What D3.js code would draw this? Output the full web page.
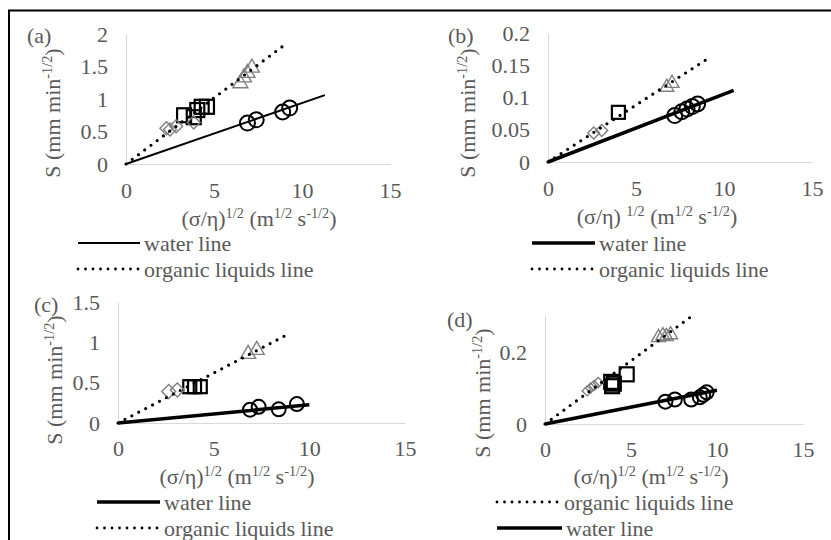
<!DOCTYPE html>
<html>
<head>
<meta charset="utf-8">
<script src="https://cdn.jsdelivr.net/npm/d3@7"></script>
<style>
  html, body { margin: 0; padding: 0; background: #fff; }
</style>
</head>
<body>
<div id="chart"></div>
<script>
// tick labels
const xTickValues = [0, 5, 10, 15];
const aYTicks = [0, 0.5, 1, 1.5, 2];
const bYTicks = [0, 0.05, 0.1, 0.15, 0.2];
const cYTicks = [0, 0.5, 1, 1.5];
const dYTicks = [0, 0.2];

// panel (a)
const aWater = [[6.9, 0.63], [7.4, 0.68], [8.9, 0.8], [9.3, 0.86]];
const aSquares = [[3.3, 0.75], [3.85, 0.72], [4.05, 0.83], [4.3, 0.88], [4.6, 0.88]];
const aDiamonds = [[2.3, 0.55], [2.5, 0.53], [2.85, 0.58], [3.85, 0.64]];
const aTriangles = [[6.5, 1.24], [6.7, 1.33], [6.9, 1.4], [7.15, 1.48]];
const aWaterLine = [[0, 0], [11.3, 1.06]];
const aOrganicLine = [[0, 0], [8.9, 1.81]];

// panel (b)
const bWater = [[7.2, 0.072], [7.6, 0.078], [7.9, 0.082], [8.2, 0.086], [8.5, 0.09]];
const bSquares = [[4.0, 0.077]];
const bDiamonds = [[2.6, 0.045], [3.05, 0.049]];
const bTriangles = [[6.75, 0.116], [7.05, 0.122]];
const bWaterLine = [[0, 0], [10.55, 0.111]];
const bOrganicLine = [[0, 0], [8.95, 0.158]];

// panel (c)
const cWater = [[6.9, 0.165], [7.35, 0.2], [8.4, 0.17], [9.35, 0.235]];
const cSquares = [[3.75, 0.45], [4.0, 0.45], [4.3, 0.45]];
const cDiamonds = [[2.65, 0.39], [3.1, 0.41]];
const cTriangles = [[6.8, 0.855], [7.25, 0.905]];
const cWaterLine = [[0, 0], [10, 0.225]];
const cOrganicLine = [[0, 0], [9, 1.115]];

// panel (d)
const dWater = [[7.0, 0.062], [7.55, 0.068], [8.5, 0.068], [9.0, 0.074], [9.2, 0.081], [9.4, 0.088]];
const dSquares = [[3.85, 0.117], [3.9, 0.105], [4.0, 0.112], [4.75, 0.138]];
const dDiamonds = [[2.45, 0.092], [2.65, 0.1], [2.85, 0.107], [3.1, 0.115]];
const dTriangles = [[6.6, 0.24], [6.85, 0.245], [7.05, 0.243], [7.3, 0.248]];
const dWaterLine = [[0, 0], [10, 0.094]];
const dOrganicLine = [[0, 0], [8.6, 0.302]];

const panelLabels = ['(a)', '(b)', '(c)', '(d)'];
const legendWaterText = 'water line';
const legendOrganicText = 'organic liquids line';

const width = 831, height = 540;
const FS = 22;
const FONT = '"Liberation Serif", "Times New Roman", Times, serif';
const TXT = '#595959';

const svg = d3.select('#chart').append('svg')
  .attr('width', width)
  .attr('height', height)
  .attr('font-family', FONT);

// outer frame (top and left edges visible)
svg.append('line').attr('x1', 8).attr('x2', width).attr('y1', 10.5).attr('y2', 10.5)
  .attr('stroke', '#000').attr('stroke-width', 2);
svg.append('line').attr('x1', 9).attr('x2', 9).attr('y1', 10).attr('y2', height)
  .attr('stroke', '#000').attr('stroke-width', 2);

const panels = [
  {
    label: panelLabels[0], labelPos: [27, 43],
    left: 126, right: 390, top: 34, bottom: 164, yMax: 2, yTicks: aYTicks, tickPad: 18,
    water: aWater, squares: aSquares, diamonds: aDiamonds, triangles: aTriangles,
    waterLine: aWaterLine, organicLine: aOrganicLine, waterWidth: 2,
    yTitle: [52, 113], xTitle: [259, 226], xTitleGap: false,
    legend: [
      { kind: 'water', x1: 78, x2: 140, y: 243, w: 2 },
      { kind: 'organic', x1: 78, x2: 140, y: 269 }
    ],
    circleR: 7.5, squareS: 14, diamondS: 13, triS: 15
  },
  {
    label: panelLabels[1], labelPos: [448, 43],
    left: 548, right: 812, top: 33, bottom: 162, yMax: 0.2, yTicks: bYTicks, tickPad: 18,
    water: bWater, squares: bSquares, diamonds: bDiamonds, triangles: bTriangles,
    waterLine: bWaterLine, organicLine: bOrganicLine, waterWidth: 3.5,
    yTitle: [467, 113], xTitle: [657, 224], xTitleGap: true,
    legend: [
      { kind: 'water', x1: 532, x2: 595, y: 243, w: 3.5 },
      { kind: 'organic', x1: 532, x2: 595, y: 269 }
    ],
    circleR: 7.5, squareS: 13, diamondS: 12, triS: 14
  },
  {
    label: panelLabels[2], labelPos: [34, 312],
    left: 118, right: 405, top: 302, bottom: 423, yMax: 1.5, yTicks: cYTicks, tickPad: 17,
    water: cWater, squares: cSquares, diamonds: cDiamonds, triangles: cTriangles,
    waterLine: cWaterLine, organicLine: cOrganicLine, waterWidth: 3.5,
    yTitle: [54, 380], xTitle: [237, 484], xTitleGap: false,
    legend: [
      { kind: 'water', x1: 97, x2: 160, y: 502, w: 3.5 },
      { kind: 'organic', x1: 97, x2: 160, y: 528 }
    ],
    circleR: 7, squareS: 13, diamondS: 14, triS: 15
  },
  {
    label: panelLabels[3], labelPos: [447, 327],
    left: 545, right: 803, top: 316, bottom: 424, yMax: 0.3, yTicks: dYTicks, tickPad: 17,
    water: dWater, squares: dSquares, diamonds: dDiamonds, triangles: dTriangles,
    waterLine: dWaterLine, organicLine: dOrganicLine, waterWidth: 3.5,
    yTitle: [482, 393], xTitle: [651, 484], xTitleGap: false,
    legend: [
      { kind: 'organic', x1: 497, x2: 560, y: 502 },
      { kind: 'water', x1: 497, x2: 562, y: 528, w: 3.5 }
    ],
    circleR: 7, squareS: 14, diamondS: 10, triS: 14
  }
];

function supText(sel, parts) {
  parts.forEach(([t, sup]) => {
    const ts = sel.append('tspan').text(t);
    if (sup) ts.attr('baseline-shift', 'super').attr('font-size', '65%');
  });
}

function styleText(sel) {
  sel.attr('font-size', FS).attr('fill', TXT).style('font-family', FONT);
}

panels.forEach(p => {
  const x = d3.scaleLinear().domain([0, 15]).range([p.left, p.right]);
  const y = d3.scaleLinear().domain([0, p.yMax]).range([p.bottom, p.top]);
  const g = svg.append('g');

  // axes
  const xAxis = g.append('g')
    .attr('transform', 'translate(0,' + p.bottom + ')')
    .call(d3.axisBottom(x).tickValues(xTickValues).tickSize(0).tickPadding(p.tickPad).tickFormat(d3.format('d')));
  xAxis.select('.domain').attr('stroke', '#d9d9d9').attr('stroke-width', 1);
  styleText(xAxis.selectAll('text'));

  const yAxis = g.append('g')
    .attr('transform', 'translate(' + p.left + ',0)')
    .call(d3.axisLeft(y).tickValues(p.yTicks).tickSize(0).tickPadding(18).tickFormat(d3.format('~g')));
  yAxis.select('.domain').attr('stroke', '#d9d9d9').attr('stroke-width', 1);
  styleText(yAxis.selectAll('text'));

  // markers
  g.selectAll('.circ').data(p.water).enter().append('circle')
    .attr('cx', d => x(d[0])).attr('cy', d => y(d[1])).attr('r', p.circleR)
    .attr('fill', 'none').attr('stroke', '#000').attr('stroke-width', 2);

  g.selectAll('.sq').data(p.squares).enter().append('rect')
    .attr('x', d => x(d[0]) - p.squareS / 2).attr('y', d => y(d[1]) - p.squareS / 2)
    .attr('width', p.squareS).attr('height', p.squareS)
    .attr('fill', 'none').attr('stroke', '#000').attr('stroke-width', 2.2);

  const diamond = d3.symbol().type(d3.symbolSquare).size(p.diamondS * p.diamondS / 2);
  g.selectAll('.dia').data(p.diamonds).enter().append('path')
    .attr('d', diamond)
    .attr('transform', d => 'translate(' + x(d[0]) + ',' + y(d[1]) + ') rotate(45)')
    .attr('fill', 'none').attr('stroke', '#7f7f7f').attr('stroke-width', 1.4);

  const tri = d3.symbol().type(d3.symbolTriangle).size(p.triS * p.triS * 0.433);
  g.selectAll('.tri').data(p.triangles).enter().append('path')
    .attr('d', tri)
    .attr('transform', d => 'translate(' + x(d[0]) + ',' + y(d[1]) + ')')
    .attr('fill', 'none').attr('stroke', '#7f7f7f').attr('stroke-width', 1.4);

  // trend lines
  const line = d3.line().x(d => x(d[0])).y(d => y(d[1]));
  g.append('path').datum(p.waterLine).attr('d', line)
    .attr('fill', 'none').attr('stroke', '#000').attr('stroke-width', p.waterWidth);
  g.append('path').datum(p.organicLine).attr('d', line)
    .attr('fill', 'none').attr('stroke', '#000').attr('stroke-width', 3.2)
    .attr('stroke-linecap', 'round').attr('stroke-dasharray', '0 7.8');

  // panel label
  styleText(g.append('text').attr('x', p.labelPos[0]).attr('y', p.labelPos[1]).text(p.label));

  // y title
  const yt = g.append('text')
    .attr('transform', 'translate(' + p.yTitle[0] + ',' + p.yTitle[1] + ') rotate(-90)')
    .attr('text-anchor', 'middle').attr('dy', '0.35em');
  styleText(yt);
  supText(yt, [['S (mm min', false], ['-1/2', true], [')', false]]);

  // x title
  const xt = g.append('text')
    .attr('x', p.xTitle[0]).attr('y', p.xTitle[1])
    .attr('text-anchor', 'middle');
  styleText(xt);
  supText(xt, [['(σ/η)' + (p.xTitleGap ? ' ' : ''), false], ['1/2', true], [' (m', false], ['1/2', true], [' s', false], ['-1/2', true], [')', false]]);

  // legend
  p.legend.forEach(l => {
    const ln = g.append('line').attr('x1', l.x1).attr('x2', l.x2).attr('y1', l.y).attr('y2', l.y)
      .attr('stroke', '#000');
    if (l.kind === 'water') {
      ln.attr('stroke-width', l.w);
    } else {
      ln.attr('stroke-width', 2.8).attr('stroke-linecap', 'round').attr('stroke-dasharray', '0 7.5');
    }
    styleText(g.append('text').attr('x', l.x2 + 4).attr('y', l.y).attr('dy', '0.35em')
      .text(l.kind === 'water' ? legendWaterText : legendOrganicText));
  });
});
</script>
</body>
</html>
